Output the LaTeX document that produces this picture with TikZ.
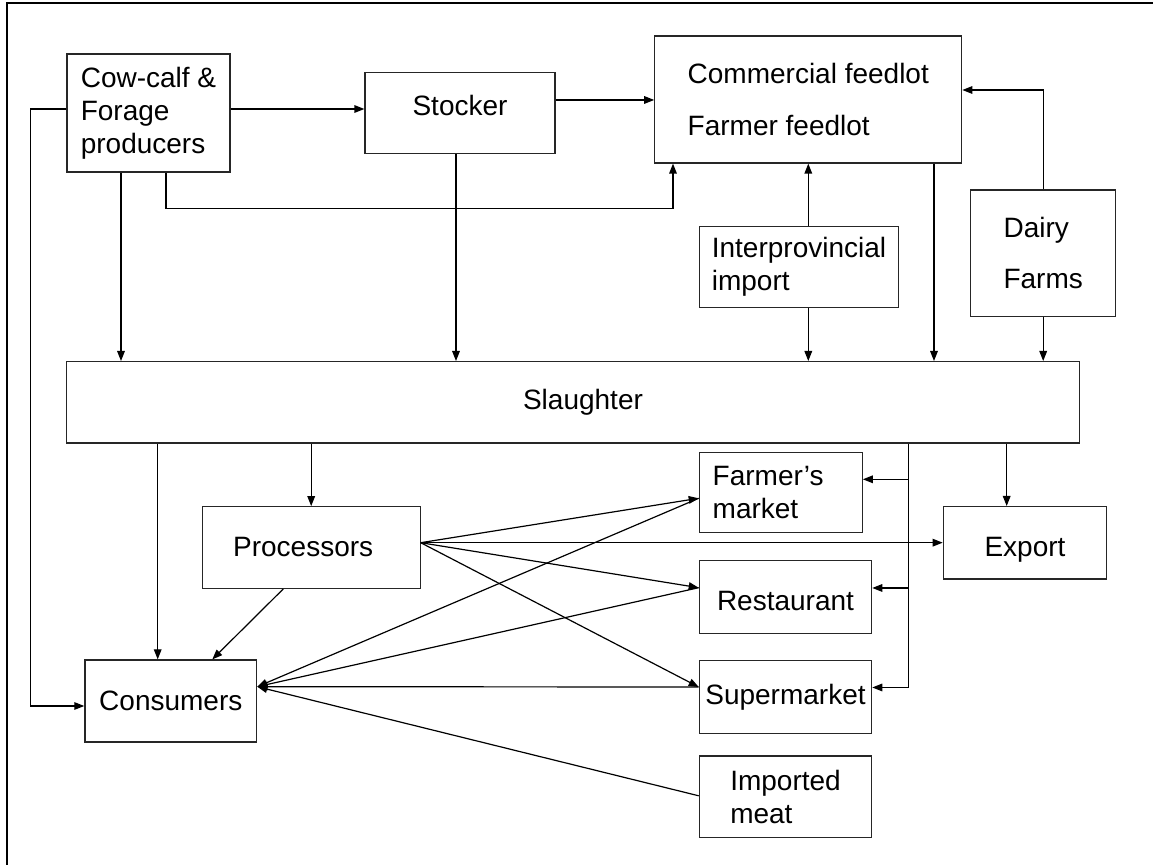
\documentclass[tikz,border=0pt]{standalone}
\usepackage{fontspec}
\setmainfont{Liberation Sans}
\usetikzlibrary{arrows.meta,positioning}

\tikzset{box/.style={draw=black!85, line width=0.6pt, font=\fontsize{14pt}{16.5pt}\selectfont}}

\begin{document}
\begin{tikzpicture}[x=0.5pt,y=-0.5pt,->,>={Triangle[length=5pt,width=3.8pt]},line width=0.6pt,node distance=50pt]
\useasboundingbox (0,0) rectangle (1153,865);
\draw[-,line width=1.25pt] (7,866) -- (7,3) -- (1154,3);

\node[box, minimum width=81.5pt, minimum height=59pt, align=left] (A) at (148.5,113) {Cow-calf \&\\Forage\\producers};
\node[box, minimum width=95pt, minimum height=40.5pt, text depth=7.3pt] (B) at (460,113) {Stocker};
\node[box, minimum width=153.5pt, minimum height=63.5pt, align=left] (C) at (808.3,99.5) {Commercial feedlot\\[9.5pt]Farmer feedlot};
\node[box, minimum width=99.7pt, minimum height=40.5pt, align=left] (D) at (799,267.2) {Interprovincial\\import};
\node[box, minimum width=72.5pt, minimum height=63.3pt, align=left] (E) at (1043.2,253.3) {Dairy\\[9pt]Farms};
\node[box, minimum width=506.3pt, minimum height=40.7pt] (F) at (573,402.3) {\hspace*{10pt}Slaughter};
\node[box, minimum width=81.5pt, minimum height=40.2pt, align=left, inner xsep=6.7pt, text width=68.1pt] (G) at (780.8,492.5) {Farmer’s\\market};
\node[box, minimum width=108.9pt, minimum height=40.8pt] (H) at (311.2,547.5) {Processors\hspace*{8pt}};
\node[box, minimum width=81.7pt, minimum height=36.2pt, text height=17pt] (I) at (1025,542.8) {Export};
\node[box, minimum width=86.2pt, minimum height=36.3pt, text height=13.7pt] (J) at (785.5,597) {Restaurant};
\node[box, minimum width=86.2pt, minimum height=36.2pt, inner xsep=2pt] (K) [below of=J] {Supermarket};
\node[box, minimum width=86.2pt, minimum height=40.9pt, align=left] (L) [below of=K] {Imported\\meat};
\node[box, minimum width=85.9pt, minimum height=41pt] (M) at (170.8,701) {Consumers};

\draw ([yshift=2pt]A.east) -- ([yshift=2pt]A.east -| B.west);
\draw ([yshift=2pt]A.west) -- ++(-18pt,0) |- ([yshift=-2.5pt]M.west);
\draw ([xshift=-13.75pt]A.south) -- ([xshift=-13.75pt]A.south |- F.north);
\draw ([xshift=8.75pt]A.south) -- ++(0,-18pt) -| ([xshift=-67.65pt]C.south);
\draw ([yshift=6.5pt]B.east) -- ([yshift=6.5pt]B.east -| C.west);
\draw ([xshift=-2pt]B.south) -- ([xshift=-2pt]B.south |- F.north);
\draw ([xshift=62.85pt]C.south) -- ([xshift=62.85pt]C.south |- F.north);
\draw (D.north -| C.south) -- (C.south);
\draw (D.south -| C.south) -- (C.south |- F.north);
\draw (E.north) |- ([yshift=4.75pt]C.east);
\draw (E.south) -- (E.south |- F.north);

\draw ([xshift=-6.55pt]M.north |- F.south) -- ([xshift=-6.55pt]M.north);
\draw (H.north |- F.south) -- (H.north);
\draw ([xshift=-9.15pt]I.north |- F.south) -- ([xshift=-9.15pt]I.north);
\coordinate (bus) at ([xshift=22.7pt]G.east |- F.south);
\draw (bus) |- ([yshift=4.75pt]K.east);
\draw ([yshift=6.6pt]G.east -| bus) -- ([yshift=6.6pt]G.east);
\draw ([yshift=4.5pt]J.east -| bus) -- ([yshift=4.5pt]J.east);

\path ([yshift=2.4pt]H.east) edge ([yshift=-2.9pt]G.west)
	edge ([yshift=2.4pt]H.east -| I.west)
	edge ([yshift=4.65pt]J.west)
	edge ([yshift=5pt]K.west);
\draw ([xshift=-13.95pt]H.south) -- ([xshift=20.75pt]M.north);

\path ([yshift=-2.9pt]G.west) edge ([yshift=7.15pt]M.east)
	([yshift=4.65pt]J.west) edge ([yshift=7.15pt]M.east)
	([yshift=5pt]K.west) edge ([yshift=7.15pt]M.east)
	([yshift=0.6pt]L.west) edge ([yshift=7.15pt]M.east);
\end{tikzpicture}
\end{document}
